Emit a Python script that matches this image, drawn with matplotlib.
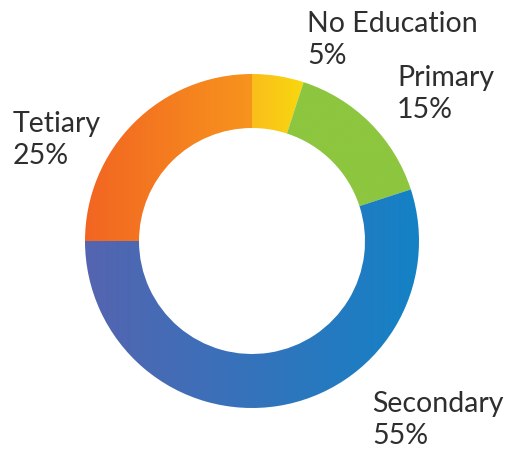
import matplotlib.pyplot as plt
import numpy as np
from matplotlib.colors import LinearSegmentedColormap

labels = ["No Education", "Primary", "Secondary", "Tetiary"]
shares = [5, 15, 55, 25]
# left / right colour of each slice's horizontal gradient
grad_left = ["#FBBE1C", "#8DC63F", "#5564B0", "#F26522"]
grad_right = ["#F8D80E", "#8DC63F", "#1482C6", "#F7941D"]
# label anchors in pixels (left x, baseline y from top)
label_pos = [(307, 32), (397, 86), (372, 412), (13, 132)]

W, H = 511, 450
cx, cy, r_out, r_in = 252, 241, 167, 113

fig = plt.figure(figsize=(W / 100, H / 100), dpi=100)
ax = fig.add_axes([0, 0, 1, 1])

wedges, _ = ax.pie(shares, startangle=90, counterclock=False,
                   center=(cx, H - cy), radius=r_out,
                   wedgeprops=dict(width=r_out - r_in, linewidth=0))

grad = np.linspace(0, 1, 256).reshape(1, -1)
for w, c0, c1 in zip(wedges, grad_left, grad_right):
    w.set_facecolor("none")
    bb = w.get_path().get_extents(w.get_transform())
    inv = ax.transData.inverted()
    (x0, y0), (x1, y1) = inv.transform([[bb.x0, bb.y0], [bb.x1, bb.y1]])
    cmap = LinearSegmentedColormap.from_list("g", [c0, c1])
    im = ax.imshow(grad, cmap=cmap, extent=[x0, x1, y0, y1],
                   aspect="auto", interpolation="bicubic", zorder=1)
    im.set_clip_path(w)

for lab, s, (x, y) in zip(labels, shares, label_pos):
    ax.text(x, H - y, lab, fontsize=20.5, family="Lato",
            color="#2e2e2e", va="baseline", ha="left")
    ax.text(x, H - y - 32, f"{s}%", fontsize=20.5, family="Lato",
            color="#2e2e2e", va="baseline", ha="left")

ax.set_xlim(0, W)
ax.set_ylim(0, H)
ax.set_aspect("auto")
ax.axis("off")

fig.savefig("out.png", dpi=100)
